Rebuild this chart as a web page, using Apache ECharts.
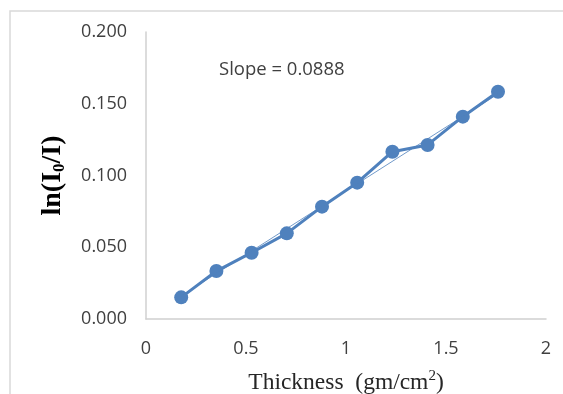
<!DOCTYPE html>
<html>
<head>
<meta charset="utf-8">
<script src="https://cdn.jsdelivr.net/npm/echarts@6/dist/echarts.min.js"></script>
<style>
html,body{margin:0;padding:0;background:#fff;}
#c{width:563px;height:394px;}
</style>
</head>
<body>
<div id="c"></div>
<script>
// Data
var thickness = [0.176, 0.352, 0.528, 0.704, 0.880, 1.056, 1.232, 1.408, 1.584, 1.760];
var lnRatio   = [0.0151, 0.0334, 0.0462, 0.0597, 0.0783, 0.0950, 0.1166, 0.1213, 0.1410, 0.1584];
var trendX    = [0.176, 1.760];
var trendY    = [0.0161, 0.1568];
var xTicks    = ['0', '0.5', '1', '1.5', '2'];
var slopeText = 'Slope = 0.0888';

var blue = '#4f81bd';
var serif = '"Liberation Serif", "Times New Roman", serif';
var chart = echarts.init(document.getElementById('c'), null, {renderer: 'canvas'});
chart.setOption({
  animation: false,
  backgroundColor: '#fff',
  grid: {left: 146, right: 17, top: 32, bottom: 75, containLabel: false, outerBoundsMode: 'none'},
  graphic: [
    {type: 'rect', shape: {x: 10, y: 11, width: 620, height: 420},
     style: {fill: 'none', stroke: '#d9d9d9', lineWidth: 1.5}, silent: true},
    {type: 'text', left: 219, top: 60,
     style: {text: slopeText, font: '18.5px "Open Sans", sans-serif', fill: '#404040'}}
  ],
  xAxis: {
    type: 'value', min: 0, max: 2, interval: 0.5,
    axisLine: {lineStyle: {color: '#d0d0d0', width: 1.5}},
    axisTick: {show: false},
    splitLine: {show: false},
    axisLabel: {
      margin: 21, fontSize: 18, fontFamily: 'Open Sans', color: '#404040',
      formatter: function (v) { return xTicks[Math.round(v / 0.5)]; }
    },
    name: '{t|Thickness  (gm/cm}{s|2}{t|)}',
    nameLocation: 'middle', nameGap: 50,
    nameTextStyle: {
      rich: {
        t: {fontFamily: serif, fontSize: 23.5, color: '#262626', lineHeight: 28},
        s: {fontFamily: serif, fontSize: 15, color: '#262626', lineHeight: 16, verticalAlign: 'top'}
      }
    }
  },
  yAxis: {
    type: 'value', min: 0, max: 0.2, interval: 0.05,
    axisLine: {show: true, lineStyle: {color: '#d0d0d0', width: 1.5}},
    axisTick: {show: false},
    splitLine: {show: false},
    axisLabel: {
      margin: 19, fontSize: 18, fontFamily: 'Open Sans', color: '#404040',
      formatter: function (v) { return v.toFixed(3); }
    },
    name: '{a|ln(I}{b|0}{a|/I)}',
    nameLocation: 'middle', nameGap: 78,
    nameTextStyle: {
      rich: {
        a: {fontFamily: serif, fontWeight: 'bold', fontSize: 28, color: '#000', lineHeight: 30},
        b: {fontFamily: serif, fontWeight: 'bold', fontSize: 17, color: '#000', lineHeight: 14, verticalAlign: 'bottom'}
      }
    }
  },
  series: [
    {
      type: 'line',
      data: thickness.map(function (x, i) { return [x, lnRatio[i]]; }),
      symbol: 'circle', symbolSize: 14,
      lineStyle: {color: blue, width: 3},
      itemStyle: {color: blue},
      z: 2
    },
    {
      type: 'line',
      data: trendX.map(function (x, i) { return [x, trendY[i]]; }),
      symbol: 'none',
      lineStyle: {color: blue, width: 1, opacity: 0.8},
      z: 3
    }
  ]
});
</script>
</body>
</html>
